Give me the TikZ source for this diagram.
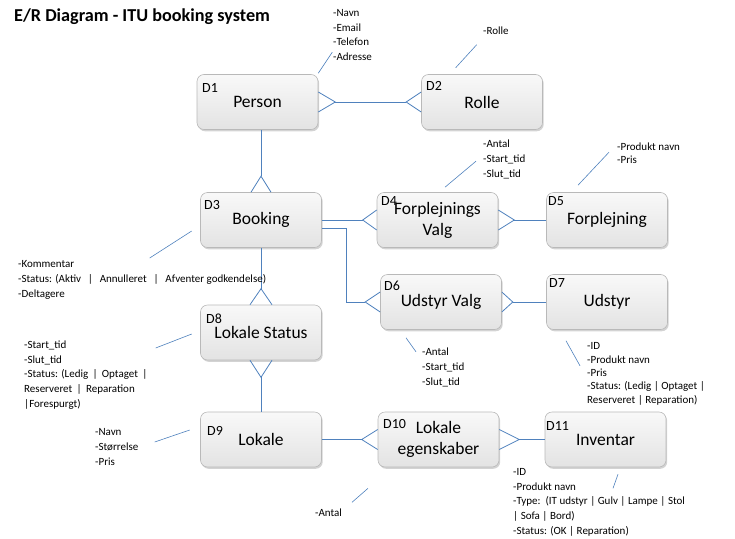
\documentclass[tikz,border=0pt]{standalone}
\usepackage{fontspec}
\setmainfont{Carlito}
\usepackage{tikz}
\usetikzlibrary{positioning,calc,shadows}
\definecolor{erblue}{HTML}{4F81BD}
% crow's foot: anchor, apex offset, half width, name of apex
\newcommand{\crowfoot}[4]{\draw[rel] ($(#1)+(#3)$) -- ($(#1)+(#2)$) coordinate (#4) -- ($(#1)-(#3)$);}

\begin{document}
\begin{tikzpicture}[x=1pt,y=-1pt,
    entity/.style={rectangle, rounded corners=7pt, minimum width=121pt, minimum height=55pt,
      align=center, top color=gray!5, bottom color=gray!22, draw=gray!55, line width=0.6pt,
      drop shadow={opacity=0.35,shadow xshift=1.2pt,shadow yshift=-1.8pt},
      font=\fontsize{17.5}{21}\selectfont, inner sep=2pt},
    dtag/.style={anchor=base west, inner sep=0pt, font=\fontsize{14}{16}\selectfont},
    attr/.style={anchor=base west, align=left, inner sep=0pt, font=\fontsize{11}{14.6}\selectfont},
    rel/.style={draw=erblue, line width=0.8pt},
    note/.style={draw=erblue, line width=0.6pt}]
    \useasboundingbox (0,0) rectangle (735,538);

    \node[anchor=base west, inner sep=0pt, font=\bfseries\fontsize{18.2}{22}\selectfont] (title) at (14,21) {E/R Diagram - ITU booking system};

    % entities
    \node[entity] (person) at (257.5,102) {Person};
    \node[entity] (rolle) at (482,102) {Rolle};
    \node[entity] (booking) at (261,220) {Booking};
    \node[entity] (fvalg) at (437.5,220) {Forplejnings\\Valg};
    \node[entity] (forpl) at (607,220) {Forplejning};
    \node[entity] (uvalg) at (441,302) {Udstyr Valg};
    \node[entity] (udstyr) at (607,302) {Udstyr};
    \node[entity] (lstatus) at (261,332.5) {Lokale Status};
    \node[entity] (lokale) at (261,439.5) {Lokale};
    \node[entity] (legensk) at (438.5,439.5) {Lokale\\egenskaber};
    \node[entity] (inventar) at (605.5,439.5) {Inventar};

    \node[dtag] (d1) at (202,92) {D1};
    \node[dtag] (d2) at (426,90) {D2};
    \node[dtag] (d3) at (204,209) {D3};
    \node[dtag] (d4) at (381,205) {D4};
    \node[dtag] (d5) at (548,205) {D5};
    \node[dtag] (d6) at (384,290) {D6};
    \node[dtag] (d7) at (549,287) {D7};
    \node[dtag] (d8) at (206,323) {D8};
    \node[dtag] (d9) at (207,435) {D9};
    \node[dtag] (d10) at (383,428) {D10};
    \node[dtag] (d11) at (546,430) {D11};

    % crow's feet
    \crowfoot{person.east}{17,0}{0,10}{pr1}
    \crowfoot{rolle.west}{-15,0}{0,10}{pr2}
    \crowfoot{booking.north}{0,-16}{10,0}{pb}
    \crowfoot{fvalg.west}{-14,0}{0,10}{fv1}
    \crowfoot{fvalg.east}{16,0}{0,10}{fv2}
    \crowfoot{uvalg.west}{-15,0}{0,10}{uv1}
    \crowfoot{uvalg.east}{11,0}{0,10}{uv2}
    \crowfoot{lstatus.north}{0,-16}{11,0}{ls1}
    \crowfoot{lstatus.south}{0,17}{11,0}{ls2}
    \crowfoot{legensk.west}{-16,0}{0,10}{le1}
    \crowfoot{legensk.east}{20,0}{0,10}{le2}

    % relations
    \draw[rel] (pr1) -- (pr2);
    \draw[rel] (person.south -| pb) -- (pb);
    \draw[rel] (booking.east) -- (fv1);
    \draw[rel] (fv2) -- (forpl.west);
    \draw[rel] ($(booking.east)+(0,8)$) -- ++(25,0) |- (uv1);
    \draw[rel] (uv2) -- (udstyr.west);
    \draw[rel] (booking.south -| ls1) -- (ls1);
    \draw[rel] (ls2) -- (ls2 |- lokale.north);
    \draw[rel] (lokale.east) -- (le1);
    \draw[rel] (le2) -- (inventar.west);

    % attributes (placed by the baseline of their last line)
    \node[attr] (personattr) at (333,60.5) {-Navn\\-Email\\-Telefon\\-Adresse};
    \node[attr] (rolleattr) at (483,34.5) {-Rolle};
    \node[attr] (fvalgattr) at (483,177) {-Antal\\-Start\_tid\\-Slut\_tid};
    \node[attr, font=\fontsize{11}{12.8}\selectfont] (forplattr) at (617,163) {-Produkt navn\\-Pris};
    \node[attr] (bookingattr) at (18,297) {-Kommentar\\-Status: (Aktiv \ \,|\ \, Annulleret \ \,|\ \, Afventer godkendelse)\\-Deltagere};
    \node[attr] (lstatusattr) at (24,407) {-Start\_tid\\-Slut\_tid\\-Status: (Ledig \,|\, Optaget \,|\\Reserveret \,|\, Reparation\\|Forespurgt)};
    \node[attr] (uvalgattr) at (422,385) {-Antal\\-Start\_tid\\-Slut\_tid};
    \node[attr, font=\fontsize{11}{13.3}\selectfont] (udstyrattr) at (587,403) {-ID\\-Produkt navn\\-Pris\\-Status: (Ledig | Optaget |\\Reserveret | Reparation)};
    \node[attr] (lokaleattr) at (95,465) {-Navn\\-Størrelse\\-Pris};
    \node[attr] (legenskattr) at (315,516.5) {-Antal};
    \node[attr] (inventarattr) at (513,534) {-ID\\-Produkt navn\\-Type:\ \ (IT udstyr | Gulv | Lampe | Stol\\| Sofa | Bord)\\-Status: (OK | Reparation)};

    \draw[note] ($(person.north east)+(0,-1)$) -- ++(14,-21);
    \draw[note] ($(rolle.north west)+(34.5,-6.5)$) -- ++(21,-23);
    \draw[note] ($(fvalg.north)+(7.5,-5)$) -- ++(31,-26);
    \draw[note] ($(forpl.north)+(-29,-7)$) -- ++(31,-33);
    \draw[note] ($(booking.west)+(-8.5,11)$) -- ++(-42,27);
    \draw[note] ($(lstatus.west)+(-8.5,1.5)$) -- ++(-36,14);
    \draw[note] ($(uvalg.south)+(-35,8)$) -- ++(10,14);
    \draw[note] ($(udstyr.south)+(-41,11)$) -- ++(14,25);
    \draw[note] ($(lokale.west)+(-10.5,-9.5)$) -- ++(-35,12);
    \draw[note] ($(legensk.south)+(-70.5,21)$) -- ++(-16,14);
    \draw[note] ($(inventar.south)+(12.5,7)$) -- ++(-5,14);
\end{tikzpicture}
\end{document}
